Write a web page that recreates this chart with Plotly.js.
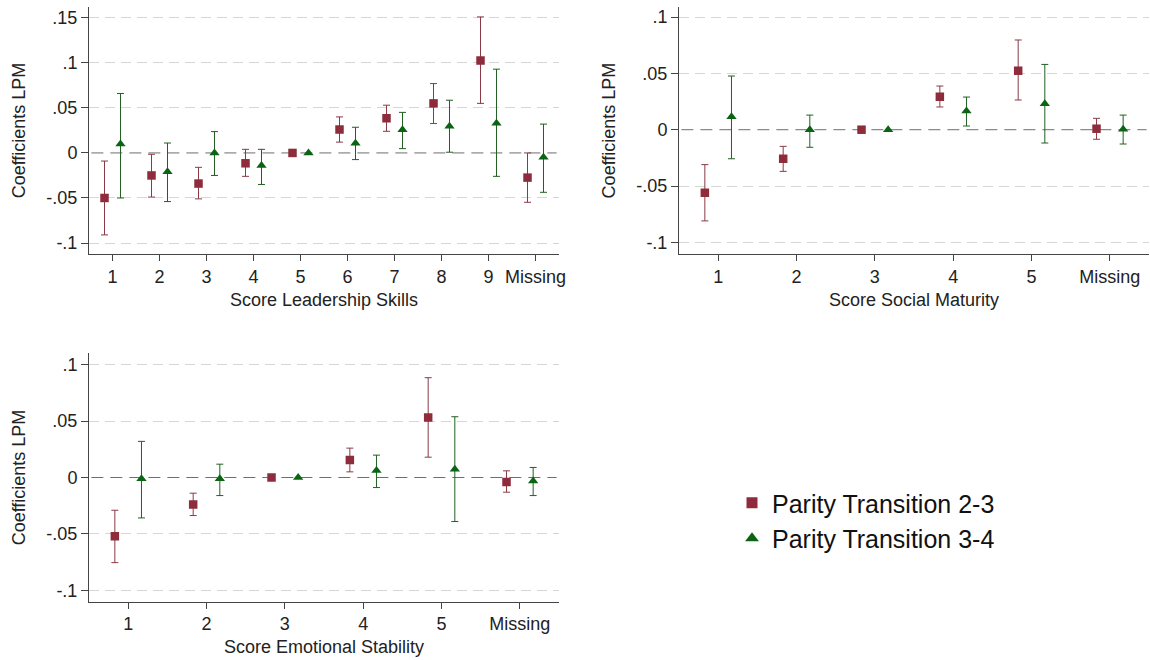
<!DOCTYPE html>
<html>
<head>
<meta charset="utf-8">
<script src="https://cdn.plot.ly/plotly-3.0.1.min.js"></script>
<style>html,body{margin:0;padding:0;background:#fff;}#chart{width:1150px;height:660px;}</style>
</head>
<body>
<div id="chart"></div>
<script>
// ---------- data ----------
const seriesNames = ["Parity Transition 2-3", "Parity Transition 3-4"];

// Panel 1: Score Leadership Skills
const lsCategories = ["1","2","3","4","5","6","7","8","9","Missing"];
const lsCoef23 = [-0.050, -0.025, -0.034, -0.0115, 0, 0.026, 0.0385, 0.055, 0.1026, -0.0274];
const lsLo23   = [-0.091, -0.049, -0.051, -0.026, null, 0.012, 0.024, 0.0326, 0.055, -0.0548];
const lsHi23   = [-0.009, -0.0015, -0.016, 0.004, null, 0.040, 0.053, 0.077, 0.151, 0.0];
const lsCoef34 = [0.010, -0.021, 0.0, -0.014, 0, 0.0107, 0.0256, 0.0296, 0.033, -0.0048];
const lsLo34   = [-0.050, -0.054, -0.025, -0.035, null, -0.0074, 0.0048, 0.0008, -0.026, -0.0437];
const lsHi34   = [0.066, 0.011, 0.0237, 0.004, null, 0.0285, 0.045, 0.0585, 0.093, 0.032];

// Panel 2: Score Social Maturity
const smCategories = ["1","2","3","4","5","Missing"];
const smCoef23 = [-0.056, -0.0258, 0, 0.0293, 0.0524, 0.0009];
const smLo23   = [-0.081, -0.037, null, 0.0202, 0.0264, -0.0085];
const smHi23   = [-0.031, -0.0148, null, 0.0388, 0.0797, 0.0101];
const smCoef34 = [0.0115, 0.0, 0, 0.0166, 0.023, 0.0003];
const smLo34   = [-0.0258, -0.0156, null, 0.0033, -0.0118, -0.0127];
const smHi34   = [0.0477, 0.013, null, 0.029, 0.058, 0.013];

// Panel 3: Score Emotional Stability
const esCategories = ["1","2","3","4","5","Missing"];
const esCoef23 = [-0.052, -0.024, 0, 0.0156, 0.0532, -0.0039];
const esLo23   = [-0.0754, -0.0337, null, 0.005, 0.018, -0.013];
const esHi23   = [-0.029, -0.0139, null, 0.026, 0.0884, 0.0059];
const esCoef34 = [-0.001, -0.001, 0, 0.0062, 0.0074, -0.003];
const esLo34   = [-0.0358, -0.016, null, -0.0089, -0.039, -0.016];
const esHi34   = [0.032, 0.0118, null, 0.0198, 0.0538, 0.0089];

const yTickVals1 = [-0.1, -0.05, 0, 0.05, 0.1, 0.15];
const yTickText1 = ["-.1", "-.05", "0", ".05", ".1", ".15"];
const yTickVals2 = [-0.1, -0.05, 0, 0.05, 0.1];
const yTickText2 = ["-.1", "-.05", "0", ".05", ".1"];

const xTitles = ["Score Leadership Skills", "Score Social Maturity", "Score Emotional Stability"];
const yTitle = "Coefficients LPM";

// ---------- style ----------
const FONT = "Liberation Sans, Arial, Helvetica, sans-serif";
const RED = "#8e2c3b", RED_BAR = "#8a3a46";
const GREEN = "#0a6414", GREEN_BAR = "#225f22";
const OFFSET = 0.17;
const W = 1150, H = 660;

function pos(cats, off) { return cats.map((c, i) => i + 1 + off); }
function up(hi, c) { return hi.map((v, i) => v == null ? NaN : v - c[i]); }
function dn(lo, c) { return lo.map((v, i) => v == null ? NaN : c[i] - v); }

function pair(cats, c23, lo23, hi23, c34, lo34, hi34, xa, ya) {
  return [
    { type: "scatter", mode: "markers", x: pos(cats, -OFFSET), y: c23, xaxis: xa, yaxis: ya,
      showlegend: false, name: seriesNames[0], hoverinfo: "skip",
      marker: { symbol: "square", size: 8.5, color: RED },
      error_y: { type: "data", symmetric: false, array: up(hi23, c23), arrayminus: dn(lo23, c23),
                 color: RED_BAR, thickness: 1, width: 3.5 } },
    { type: "scatter", mode: "markers", x: pos(cats, OFFSET), y: c34, xaxis: xa, yaxis: ya,
      showlegend: false, name: seriesNames[1], hoverinfo: "skip",
      marker: { symbol: "triangle-up", size: 9, color: GREEN },
      error_y: { type: "data", symmetric: false, array: up(hi34, c34), arrayminus: dn(lo34, c34),
                 color: GREEN_BAR, thickness: 1, width: 3.5 } }
  ];
}

const traces = [].concat(
  pair(lsCategories, lsCoef23, lsLo23, lsHi23, lsCoef34, lsLo34, lsHi34, "x", "y"),
  pair(smCategories, smCoef23, smLo23, smHi23, smCoef34, smLo34, smHi34, "x2", "y2"),
  pair(esCategories, esCoef23, esLo23, esHi23, esCoef34, esLo34, esHi34, "x3", "y3"),
  [
    { type: "scatter", mode: "markers", x: [null], y: [null], name: seriesNames[0], showlegend: true,
      marker: { symbol: "square", size: 11, color: RED } },
    { type: "scatter", mode: "markers", x: [null], y: [null], name: seriesNames[1], showlegend: true,
      marker: { symbol: "triangle-up", size: 12, color: GREEN } }
  ]
);

function xAxis(cats, px0, px1, anchor, title) {
  return {
    domain: [px0 / W, px1 / W], anchor: anchor, range: [0.5, cats.length + 0.5],
    tickvals: cats.map((c, i) => i + 1), ticktext: cats,
    showline: true, linecolor: "#444", linewidth: 1, mirror: false,
    ticks: "outside", ticklen: 6, tickcolor: "#444", tickwidth: 1,
    showgrid: false, zeroline: false, automargin: false,
    tickfont: { family: FONT, size: 18, color: "#222" },
    title: { text: title, font: { family: FONT, size: 18, color: "#222" }, standoff: 7 },
    fixedrange: true
  };
}
function yAxis(range, vals, text, py0, py1, anchor) {
  return {
    domain: [1 - py1 / H, 1 - py0 / H], anchor: anchor, range: range,
    tickvals: vals, ticktext: text,
    showline: true, linecolor: "#444", linewidth: 1,
    ticks: "outside", ticklen: 7, tickcolor: "#444", tickwidth: 1,
    showgrid: false, zeroline: false, automargin: false,
    minor: { tickmode: "array", tickvals: vals.filter(v => v !== 0), ticks: "",
             showgrid: true, gridcolor: "#d6d6d6", gridwidth: 1, griddash: "10px,6px" },
    tickfont: { family: FONT, size: 18, color: "#222" },
    title: { text: yTitle, font: { family: FONT, size: 18, color: "#222" }, standoff: 16 },
    fixedrange: true
  };
}

function zeroLine(xref, yref) {
  return { type: "line", xref: xref + " domain", yref: yref, x0: 0.005, x1: 0.995, y0: 0, y1: 0,
           layer: "below", line: { color: "#6e6e6e", width: 1, dash: "12px,7px" } };
}

const layout = {
  width: W, height: H,
  margin: { l: 0, r: 0, t: 0, b: 0 },
  paper_bgcolor: "#fff", plot_bgcolor: "#fff",
  font: { family: FONT, color: "#222" },
  xaxis: xAxis(lsCategories, 89, 559, "y", xTitles[0]),
  yaxis: yAxis([-0.1122, 0.162], yTickVals1, yTickText1, 7, 254, "x"),
  xaxis2: xAxis(smCategories, 679, 1149, "y2", xTitles[1]),
  yaxis2: yAxis([-0.1104, 0.109], yTickVals2, yTickText2, 7, 254, "x2"),
  xaxis3: xAxis(esCategories, 89, 559, "y3", xTitles[2]),
  yaxis3: yAxis([-0.110, 0.110], yTickVals2, yTickText2, 353.3, 601.7, "x3"),
  shapes: [zeroLine("x", "y"), zeroLine("x2", "y2"), zeroLine("x3", "y3")],
  showlegend: true,
  legend: { x: 732 / W, y: 1 - 480 / H, xanchor: "left", yanchor: "top",
            font: { family: FONT, size: 25, color: "#111" }, bgcolor: "rgba(0,0,0,0)",
            borderwidth: 0, tracegroupgap: 0 }
};

Plotly.newPlot("chart", traces, layout, { displayModeBar: false, staticPlot: true });
</script>
</body>
</html>
